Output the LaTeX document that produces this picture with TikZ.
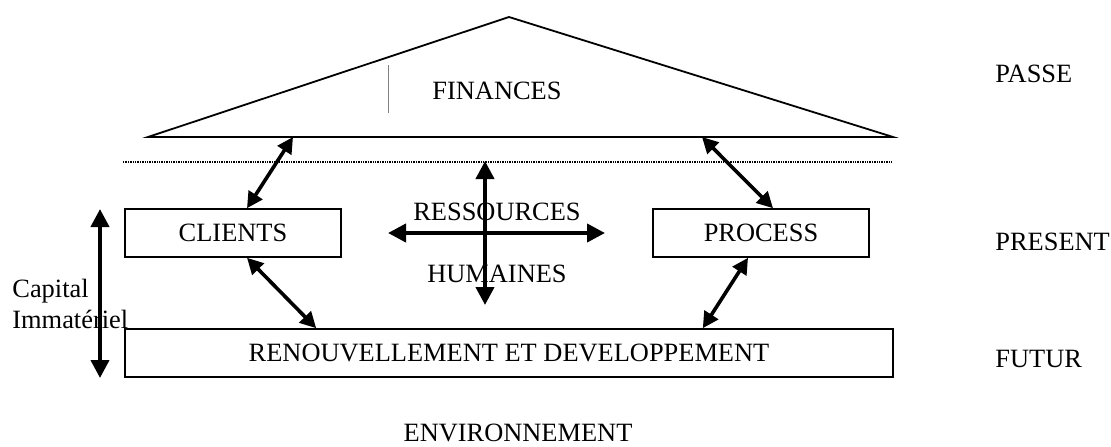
\documentclass[tikz,border=0pt]{standalone}
\usepackage{fontspec}
\setmainfont{Liberation Serif}
\usetikzlibrary{arrows.meta,calc}

\tikzset{
	box/.style={draw,line width=0.8pt,minimum width=108pt,minimum height=24pt,inner sep=0pt},
	lbl/.style={inner sep=0pt},
	dbl/.style={{Triangle[length=8pt,width=8pt]}-{Triangle[length=8pt,width=8pt]},line width=1.8pt},
	bigdbl/.style={{Triangle[length=9pt,width=9pt]}-{Triangle[length=9pt,width=9pt]},line width=2pt}
}

\begin{document}
\begin{tikzpicture}[x=0.5pt,y=-0.5pt,font=\fontsize{13.2}{15}\selectfont]
	\useasboundingbox (0,0) rectangle (1111,446);
	\coordinate (roofL) at (148,137);
	\coordinate (roofT) at (509,17);
	\coordinate (roofR) at (893,137);
	\draw[line width=0.9pt] (roofL) -- (roofT) -- (roofR) -- cycle;
	\draw[gray,line width=0.4pt] (388,65) -- (388,113);
	\node[lbl,anchor=base] (finances) at (497,99) {FINANCES};
	\draw[line width=1.4pt,dash pattern=on 0.7pt off 0.5pt] (123,162) -- (893,162);
	\node[box] (clients) at (233,233) {CLIENTS};
	\node[box] (process) at (761,233) {PROCESS};
	\node[box,minimum width=384pt] (renouv) at (509,353) {RENOUVELLEMENT ET DEVELOPPEMENT};
	\coordinate (fin1) at (293,137);
	\coordinate (fin2) at (702,137);
	\draw[dbl] (fin1) -- ($(clients.north)+(14,0)$);
	\draw[dbl] (fin2) -- ($(process.north)+(12,0)$);
	\draw[dbl] ($(clients.south)+(14,0)$) -- ($(renouv.north west)+(192,0)$);
	\draw[dbl] ($(process.south)-(13,0)$) -- ($(renouv.north east)-(191,0)$);
	\node[lbl,anchor=base] (ress) at (497,220) {RESSOURCES};
	\node[lbl,anchor=base] (hum) at (497,282) {HUMAINES};
	\coordinate (rhL) at (388,233);
	\coordinate (rhR) at (605,233);
	\coordinate (rhT) at (485,161);
	\coordinate (rhB) at (485,305);
	\draw[bigdbl] (rhL) -- (rhR);
	\draw[bigdbl] (rhT) -- (rhB);
	\coordinate (capT) at (100,209);
	\coordinate (capB) at (100,378);
	\draw[bigdbl] (capT) -- (capB);
	\node[lbl,anchor=base west] (cap) at (12,297) {Capital};
	\node[lbl,anchor=base west] (imm) at (12,328) {Immatériel};
	\node[lbl,anchor=base west] (passe) at (995,82) {PASSE};
	\node[lbl,anchor=base west] (present) at (995,250) {PRESENT};
	\node[lbl,anchor=base west] (futur) at (995,367) {FUTUR};
	\node[lbl,anchor=base] (env) at (518,441) {ENVIRONNEMENT};
\end{tikzpicture}
\end{document}
